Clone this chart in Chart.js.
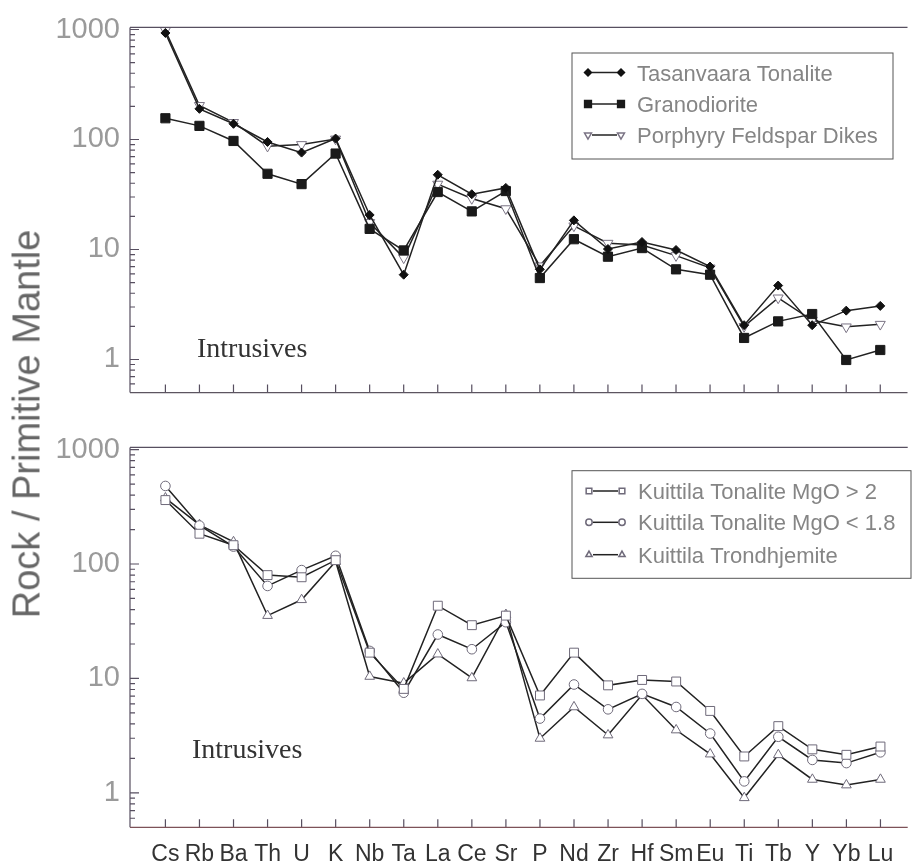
<!DOCTYPE html>
<html>
<head>
<meta charset="utf-8">
<script src="https://cdn.jsdelivr.net/npm/chart.js@4.4.0/dist/chart.umd.min.js"></script>
<style>
  body { margin: 0; background: #fff; width: 915px; height: 867px; overflow: hidden; position: relative; }
  canvas { position: absolute; left: 0; }
  #top { top: 0; }
  #bottom { top: 420px; }
  #ytitle {
    position: absolute; left: 27px; top: 424px;
    transform: translate(-50%, -50%) rotate(-90deg);
    white-space: nowrap; line-height: 1;
    font: 38px 'Liberation Sans', Arial, sans-serif; color: #666;
  }
</style>
</head>
<body>
<canvas id="top" width="915" height="420"></canvas>
<canvas id="bottom" width="915" height="447"></canvas>
<div id="ytitle">Rock / Primitive Mantle</div>
<script>
// element order on the spider diagram
const elements = ['Cs', 'Rb', 'Ba', 'Th', 'U', 'K', 'Nb', 'Ta', 'La', 'Ce', 'Sr',
                  'P', 'Nd', 'Zr', 'Hf', 'Sm', 'Eu', 'Ti', 'Tb', 'Y', 'Yb', 'Lu'];

// top panel
const tasanvaara   = [930, 190, 139, 95, 76, 102, 20.6, 5.9, 47.8, 31.8, 36.3, 6.6, 18.4, 10.1, 11.7, 9.9, 7.0, 2.05, 4.7, 2.05, 2.78, 3.07];
const granodiorite = [156, 133, 97, 48.8, 39.3, 74.5, 15.4, 9.8, 33.3, 22.2, 34.0, 5.5, 12.4, 8.6, 10.3, 6.6, 5.9, 1.57, 2.22, 2.59, 0.99, 1.22];
const porphyry     = [980, 204, 143, 87, 90, 101, 17.6, 8.4, 39.3, 29.1, 23.5, 7.1, 16.4, 11.4, 11.0, 8.8, 6.8, 2.0, 3.63, 2.27, 1.98, 2.09];

// bottom panel
const kuittilaHigh = [362, 184, 146, 80, 76.6, 108, 16.8, 8.1, 43.2, 29.2, 35.4, 7.1, 16.8, 8.7, 9.7, 9.4, 5.2, 2.08, 3.83, 2.40, 2.15, 2.54];
const kuittilaLow  = [481, 217, 142, 64.3, 88.5, 118, 17.4, 7.5, 24.2, 18.0, 31.0, 4.46, 8.85, 5.37, 7.33, 5.63, 3.30, 1.26, 3.09, 1.94, 1.82, 2.26];
const trondhjemite = [377, 220, 156, 35.4, 48.7, 105, 10.4, 9.1, 16.3, 10.1, 36.1, 2.99, 5.63, 3.20, 7.19, 3.54, 2.18, 0.905, 2.15, 1.31, 1.17, 1.31];

const yMajorTicks = [1, 10, 100, 1000];
const yMinorTicks = [0.6, 0.7, 0.8, 0.9, 2, 3, 4, 5, 6, 7, 8, 9, 20, 30, 40, 50, 60, 70, 80, 90, 200, 300, 400, 500, 600, 700, 800, 900];

const toPoints = vals => vals.map((v, i) => ({ x: i, y: v }));

const axisColor = '#574f60';

const panelDecor = {
  id: 'panelDecor',
  afterDraw(chart, args, opts) {
    const ctx = chart.ctx, a = chart.chartArea;
    const xs = chart.scales.x, ys = chart.scales.y;
    ctx.save();
    ctx.lineWidth = 1.2;
    ctx.strokeStyle = axisColor;
    ctx.beginPath();
    ctx.moveTo(a.left, a.top); ctx.lineTo(a.right, a.top);
    ctx.moveTo(a.left, a.top); ctx.lineTo(a.left, a.bottom);
    // inward ticks
    xs.ticks.forEach(t => {
      const px = xs.getPixelForValue(t.value);
      ctx.moveTo(px, a.bottom); ctx.lineTo(px, a.bottom - 8);
    });
    ys.ticks.forEach(t => {
      const py = ys.getPixelForValue(t.value);
      const len = yMajorTicks.includes(t.value) ? 9 : 5;
      ctx.moveTo(a.left, py); ctx.lineTo(a.left + len, py);
    });
    ctx.stroke();
    ctx.strokeStyle = opts.bottomColor;
    ctx.beginPath();
    ctx.moveTo(a.left, a.bottom); ctx.lineTo(a.right, a.bottom);
    ctx.stroke();

    // panel note
    ctx.fillStyle = '#333';
    ctx.font = "28px 'Liberation Serif', 'Times New Roman', serif";
    ctx.textBaseline = 'alphabetic';
    ctx.fillText(opts.note.text, opts.note.x, opts.note.y);

    // legend box
    const L = opts.legend;
    ctx.strokeStyle = '#555';
    ctx.lineWidth = 1;
    ctx.strokeRect(L.box[0], L.box[1], L.box[2] - L.box[0], L.box[3] - L.box[1]);
    ctx.font = "22px 'Liberation Sans', Arial, sans-serif";
    chart.data.datasets.forEach((ds, i) => {
      const yc = L.rows[i];
      ctx.strokeStyle = '#222';
      ctx.lineWidth = 1.5;
      ctx.beginPath();
      ctx.moveTo(L.mx[0] + 4, yc); ctx.lineTo(L.mx[1] - 4, yc);
      ctx.stroke();
      const style = {
        pointStyle: ds.pointStyle, rotation: ds.pointRotation || 0,
        radius: L.radii[i], borderWidth: 1
      };
      ctx.fillStyle = ds.pointBackgroundColor;
      ctx.strokeStyle = ds.pointBorderColor;
      L.mx.forEach(mx => Chart.helpers.drawPoint(ctx, style, mx, yc));
      ctx.fillStyle = '#858585';
      ctx.fillText(ds.label, L.textX, yc + 8);
    });
    ctx.restore();
  }
};

function makeChart(id, datasets, padTop, xHeight, showLabels, decor) {
  return new Chart(document.getElementById(id), {
    type: 'line',
    data: { datasets: datasets },
    plugins: [panelDecor],
    options: {
      responsive: false,
      animation: false,
      layout: { padding: { top: padTop, left: 0, right: 0, bottom: 0 } },
      plugins: { legend: { display: false }, tooltip: { enabled: false }, panelDecor: decor },
      scales: {
        x: {
          type: 'linear', min: -1.04, max: 21.8,
          grid: { display: false, drawTicks: false },
          border: { display: false },
          afterBuildTicks: s => { s.ticks = elements.map((e, i) => ({ value: i })); },
          afterFit: s => { s.height = xHeight; },
          ticks: {
            display: showLabels, autoSkip: false, maxRotation: 0, padding: 14,
            color: '#333', font: { family: "'Liberation Sans', Arial, sans-serif", size: 23 },
            callback: v => elements[v]
          }
        },
        y: {
          type: 'logarithmic', min: 0.5, max: 1045,
          grid: { display: false, drawTicks: false },
          border: { display: false },
          afterBuildTicks: s => {
            s.ticks = yMajorTicks.concat(yMinorTicks).sort((p, q) => p - q).map(v => ({ value: v }));
          },
          afterFit: s => { s.width = 130; },
          ticks: {
            autoSkip: false, padding: 10,
            color: '#9a9a9a', font: { family: "'Liberation Sans', Arial, sans-serif", size: 29 },
            callback: v => yMajorTicks.includes(v) ? String(v) : ''
          }
        }
      }
    }
  });
}

const lineBase = { borderColor: '#222', borderWidth: 1.5, tension: 0, fill: false, pointBorderWidth: 1 };

makeChart('top', [
  Object.assign({}, lineBase, {
    label: 'Tasanvaara Tonalite', data: toPoints(tasanvaara),
    pointStyle: 'rectRot', pointRadius: 4.5,
    pointBackgroundColor: '#111', pointBorderColor: '#111'
  }),
  Object.assign({}, lineBase, {
    label: 'Granodiorite', data: toPoints(granodiorite),
    pointStyle: 'rect', pointRadius: 6.5,
    pointBackgroundColor: '#1a1a1a', pointBorderColor: '#1a1a1a'
  }),
  Object.assign({}, lineBase, {
    label: 'Porphyry Feldspar Dikes', data: toPoints(porphyry),
    pointStyle: 'triangle', pointRotation: 180, pointRadius: 5.8,
    pointBackgroundColor: '#fff', pointBorderColor: '#7a7384'
  })
], 24, 17, false, {
  bottomColor: '#5c5560',
  note: { text: 'Intrusives', x: 197, y: 357 },
  legend: { box: [572, 53, 893, 159], rows: [72.5, 104, 135], mx: [588, 621], textX: 637, radii: [3.5, 4.8, 4] }
});

makeChart('bottom', [
  Object.assign({}, lineBase, {
    label: 'Kuittila Tonalite MgO > 2', data: toPoints(kuittilaHigh),
    pointStyle: 'rect', pointRadius: 6.3,
    pointBackgroundColor: '#fff', pointBorderColor: '#6f6a7a'
  }),
  Object.assign({}, lineBase, {
    label: 'Kuittila Tonalite MgO < 1.8', data: toPoints(kuittilaLow),
    pointStyle: 'circle', pointRadius: 4.8,
    pointBackgroundColor: '#fff', pointBorderColor: '#6f6a7a'
  }),
  Object.assign({}, lineBase, {
    label: 'Kuittila Trondhjemite', data: toPoints(trondhjemite),
    pointStyle: 'triangle', pointRadius: 5.6,
    pointBackgroundColor: '#fff', pointBorderColor: '#6f6a7a'
  })
], 22.7, 39.7, true, {
  bottomColor: '#7d5258',
  note: { text: 'Intrusives', x: 192, y: 337.7 },
  legend: { box: [572, 50.7, 911, 158.3], rows: [71, 102.3, 134.7], mx: [589, 622], textX: 638, radii: [4, 3.2, 3.6] }
});
</script>
</body>
</html>
